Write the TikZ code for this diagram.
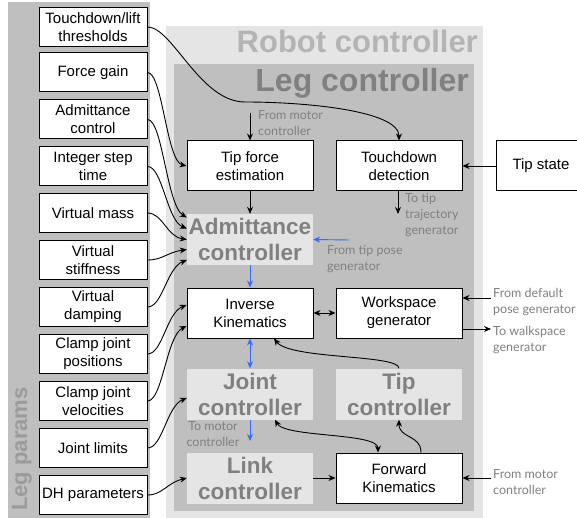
\documentclass[tikz,border=0pt]{standalone}
\usepackage{fontspec}
\setmainfont{Liberation Sans}
\newfontfamily\lblfont{Lato}
\usetikzlibrary{arrows.meta,calc}
\definecolor{panelgray}{RGB}{191,191,191}
\definecolor{lightpanel}{RGB}{229,229,229}
\definecolor{titlegray}{RGB}{128,128,128}
\definecolor{robottitle}{RGB}{180,180,180}
\definecolor{paramtitle}{RGB}{155,155,155}
\definecolor{lblgray}{RGB}{128,128,128}
\definecolor{arrowblue}{RGB}{55,105,250}
\begin{document}
\begin{tikzpicture}[x=1pt,y=-1pt,
 blk/.style={draw=black, line width=1pt, fill=white, minimum width=126pt, minimum height=50pt, align=center, font=\fontsize{15}{18}\selectfont, inner sep=0pt},
 prm/.style={blk, minimum width=108pt, minimum height=39pt},
 ctl/.style={fill=lightpanel, minimum width=126pt, minimum height=51pt, align=center, text=titlegray, font=\bfseries\fontsize{22.5}{26}\selectfont, inner sep=0pt},
 lbl/.style={text=lblgray, font=\lblfont\fontsize{12.5}{16}\selectfont, inner sep=0pt},
 arr/.style={-{Stealth[length=7pt,width=6pt]}, line width=0.9pt, black},
 barr/.style={arr, draw=arrowblue},
 darr/.style={{Stealth[length=7pt,width=6pt]}-{Stealth[length=7pt,width=6pt]}, line width=0.9pt}]
\useasboundingbox (0,0) rectangle (577,518);
% panels
\fill[panelgray] (8,2) rectangle (150,518);
\fill[lightpanel] (166,26) rectangle (483,518);
\fill[panelgray] (174,64) rectangle (474,511);
% titles
\node[anchor=base east, font=\bfseries\fontsize{31}{31}\selectfont, text=robottitle, inner sep=0pt] (rc) at (478,53) {Robot controller};
\node[anchor=base east, font=\bfseries\fontsize{32}{32}\selectfont, text=titlegray, inner sep=0pt] (lgc) at (469,92) {Leg controller};
\node[rotate=90, font=\bfseries\fontsize{22}{22}\selectfont, text=paramtitle, inner sep=0pt] (lp) at (22,449) {Leg params};
% parameter boxes
\node[prm] (p1) at (93,27) {Touchdown/lift\\thresholds};
\node[prm] (p2) at (93,72.5) {Force gain};
\node[prm] (p3) at (93,119.5) {Admittance\\control};
\node[prm] (p4) at (93,166.5) {Integer step\\time};
\node[prm] (p5) at (93,213) {Virtual mass};
\node[prm] (p6) at (93,260) {Virtual\\stiffness};
\node[prm] (p7) at (93,307) {Virtual\\damping};
\node[prm] (p8) at (93,354) {Clamp joint\\positions};
\node[prm] (p9) at (93,401) {Clamp joint\\velocities};
\node[prm] (p10) at (93,448) {Joint limits};
\node[prm] (p11) at (93,495) {DH parameters};
% main blocks
\node[blk] (tf) at (250,166) {Tip force\\estimation};
\node[blk] (td) at (399,166) {Touchdown\\detection};
\node[blk, minimum width=90pt] (ts) at (541,166) {Tip state};
\node[ctl] (adm) at (250,239.5) {Admittance\\controller};
\node[blk] (ik) at (250,313) {Inverse\\Kinematics};
\node[blk] (wg) at (399,313) {Workspace\\generator};
\node[ctl] (jc) at (250,394) {Joint\\controller};
\node[ctl] (tc) at (399,394) {Tip\\controller};
\node[ctl] (lc) at (250,478) {Link\\controller};
\node[blk] (fk) at (399,478) {Forward\\Kinematics};
% free ends
\coordinate (m1) at (250,113);
\coordinate (tdout) at (398,214);
\coordinate (tpg) at (349,240);
\coordinate (dpg) at (491,298);
\coordinate (wsg) at (491,329);
\coordinate (fkm) at (491,478);
\coordinate (jcout) at (250,441);
\coordinate (thrmid) at (245,102);
% labels
\node[lbl, anchor=north west, align=left] (lm1) at (258,110) {From motor\\controller};
\node[lbl, anchor=north west, align=left] (ltt) at (405,193) {To tip\\trajectory\\generator};
\node[lbl, anchor=north west, align=left] (ltp) at (327,245) {From tip pose\\generator};
\node[lbl, anchor=north, align=center] (ltm) at (213,421) {To motor\\controller};
\node[lbl, anchor=north west, align=left] (ldp) at (493,288) {From default\\pose generator};
\node[lbl, anchor=north west, align=left] (lws) at (493,326) {To walkspace\\generator};
\node[lbl, anchor=north west, align=left] (lfm) at (493,469) {From motor\\controller};
% straight connectors
\draw[arr] (m1) -- (tf.north);
\draw[arr] (tf.south) -- (adm.north);
\draw[barr] (adm.south) -- (ik.north);
\draw[darr, draw=arrowblue] (ik.south) -- (jc.north);
\draw[barr] (jc.south) -- (jcout);
\draw[barr] (tpg) -- (adm.east);
\draw[arr] (ts.west) -- (td.east);
\draw[arr] (tdout |- td.south) -- (tdout);
\draw[darr] (ik.east) -- (wg.west);
\draw[arr] (dpg) -- (dpg -| wg.east);
\draw[arr] (wsg -| wg.east) -- (wsg);
\draw[arr] (fkm) -- (fk.east);
\draw[arr] (lc.east) -- (fk.west);
% curved connectors from parameters
\draw[arr] (p1.east) .. controls +(25,0) and +(-45,0) .. (thrmid) .. controls +(60,0) and +(0,-30) .. (td.north);
\draw[arr] (p2.east) .. controls +(15,0) and +(-20,-5) .. (tf.west);
\draw[arr] (p3.east) .. controls +(15,0) and +(-20,-12) .. ($(adm.west)+(0,-22)$);
\draw[arr] (p4.east) .. controls +(15,0) and +(-20,-8) .. ($(adm.west)+(0,-11)$);
\draw[arr] (p5.east) .. controls +(15,0) and +(-20,-3) .. (adm.west);
\draw[arr] (p6.east) .. controls +(15,0) and +(-20,3) .. ($(adm.west)+(0,10)$);
\draw[arr] (p7.east) .. controls +(15,0) and +(-20,8) .. ($(adm.west)+(0,20.5)$);
\draw[arr] (p8.east) .. controls +(15,0) and +(-20,8) .. ($(ik.west)+(0,-8)$);
\draw[arr] (p9.east) .. controls +(15,0) and +(-20,10) .. ($(ik.west)+(0,13)$);
\draw[arr] (p10.east) .. controls +(15,0) and +(-20,8) .. ($(jc.west)+(0,4)$);
\draw[arr] (p11.east) .. controls +(15,0) and +(-20,5) .. (lc.west);
% internal curved connectors
\draw[arr] (tc.north) .. controls +(0,-14) and +(16,21) .. ($(ik.south)+(24,0)$);
\draw[darr] ($(jc.south)+(25,0)$) .. controls +(10,18) and +(0,-20) .. ($(fk.north)+(-21,0)$);
\draw[arr] ($(fk.north)+(22,0)$) .. controls +(0,-18) and +(0,19) .. (tc.south);
\end{tikzpicture}
\end{document}
